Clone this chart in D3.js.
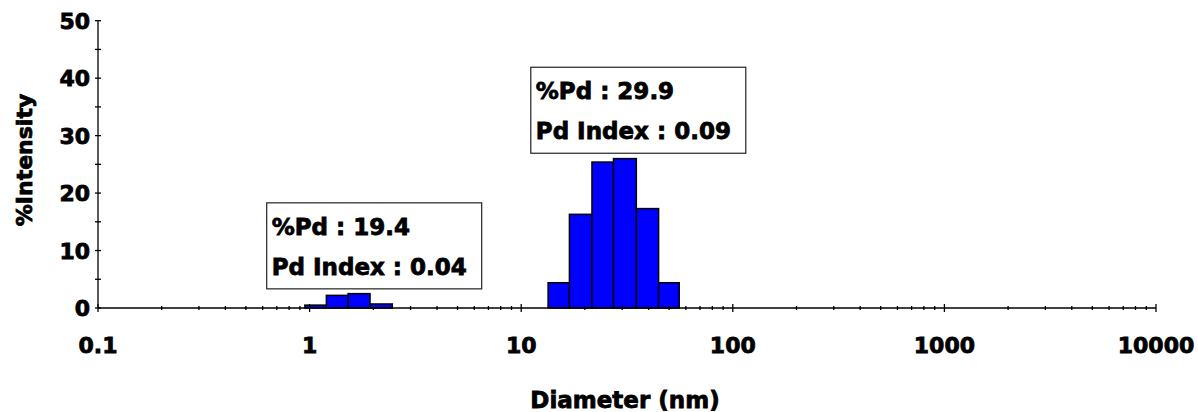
<!DOCTYPE html>
<html>
<head>
<meta charset="utf-8">
<script src="https://d3js.org/d3.v7.min.js"></script>
<style>
  body { margin: 0; background: #fff; }
  text { font-family: "DejaVu Sans", Verdana, sans-serif; font-weight: bold;
         stroke: black; stroke-width: 0.8px; fill: black; }
</style>
</head>
<body>
<div id="canvas"></div>
<script>
// size distribution by intensity, two peaks
var peak1Edges = [0.95, 1.2, 1.52, 1.93, 2.46];
var peak1Values = [0.5, 2.2, 2.5, 0.7];

var peak2Edges = [13.4, 16.9, 21.6, 27.3, 35.0, 44.6, 55.8];
var peak2Values = [4.4, 16.3, 25.4, 26.0, 17.3, 4.4];

var xTicks = [0.1, 1, 10, 100, 1000, 10000];
var xTickLabels = ["0.1", "1", "10", "100", "1000", "10000"];
var yTicks = [0, 10, 20, 30, 40, 50];

var peak1Text = ["%Pd : 19.4", "Pd Index : 0.04"];
var peak2Text = ["%Pd : 29.9", "Pd Index : 0.09"];

draw();

function draw(){
	var w = 1198,
	    h = 412,
	    left = 98,
	    right = 1156,
	    top = 20.7,
	    bottom = 308;

	var svg = d3.select("#canvas").append("svg")
				.attr("width", w)
				.attr("height", h)
				.style("background-color", "white");

	var xScale = d3.scaleLog()
					.domain([0.1, 10000])
					.range([left, right]);
	var yScale = d3.scaleLinear()
					.domain([0, 50])
					.range([bottom, top]);

	// bins: each bar goes from edge i to edge i+1
	var bins = [];
	peak1Values.forEach(function(v, i){
		bins.push({lo: peak1Edges[i], hi: peak1Edges[i+1], v: v});
	});
	peak2Values.forEach(function(v, i){
		bins.push({lo: peak2Edges[i], hi: peak2Edges[i+1], v: v});
	});

	svg.selectAll("rect.bar")
		.data(bins)
		.join("rect")
		.attr("class", "bar")
		.attr("x", function(d){ return xScale(d.lo); })
		.attr("y", function(d){ return yScale(d.v); })
		.attr("width", function(d){ return xScale(d.hi) - xScale(d.lo); })
		.attr("height", function(d){ return yScale(0) - yScale(d.v); })
		.attr("fill", "#0000ff")
		.attr("stroke", "black")
		.attr("stroke-width", 1.5);

	// y axis, ticks crossing the line
	var yAxis = svg.append("g").attr("stroke", "black").attr("stroke-width", 1.3);
	yAxis.append("line")
		.attr("x1", left).attr("x2", left)
		.attr("y1", yScale(50)).attr("y2", yScale(0));
	yAxis.selectAll("line.tick")
		.data(d3.range(0, 55, 5))
		.join("line")
		.attr("class", "tick")
		.attr("x1", left - 3).attr("x2", left + 3)
		.attr("y1", function(d){ return yScale(d); })
		.attr("y2", function(d){ return yScale(d); });

	svg.selectAll("text.ylab")
		.data(yTicks)
		.join("text")
		.attr("class", "ylab")
		.attr("x", left - 8)
		.attr("y", function(d){ return yScale(d) + 8; })
		.attr("text-anchor", "end")
		.attr("font-size", 22)
		.text(function(d){ return d; });

	// x axis (log)
	var xAxis = svg.append("g").attr("stroke", "black").attr("stroke-width", 1.3);
	xAxis.append("line")
		.attr("x1", xScale(0.1)).attr("x2", xScale(10000))
		.attr("y1", bottom).attr("y2", bottom);

	var minor = [];
	xTicks.slice(0, -1).forEach(function(t){
		for (var k = 2; k < 10; k++) minor.push(t * k);
	});
	xAxis.selectAll("line.minor")
		.data(minor)
		.join("line")
		.attr("class", "minor")
		.attr("x1", function(d){ return xScale(d); })
		.attr("x2", function(d){ return xScale(d); })
		.attr("y1", bottom - 2).attr("y2", bottom + 2);
	xAxis.selectAll("line.major")
		.data(xTicks)
		.join("line")
		.attr("class", "major")
		.attr("x1", function(d){ return xScale(d); })
		.attr("x2", function(d){ return xScale(d); })
		.attr("y1", bottom - 4).attr("y2", bottom + 4);

	svg.selectAll("text.xlab")
		.data(xTicks)
		.join("text")
		.attr("class", "xlab")
		.attr("x", function(d){ return xScale(d); })
		.attr("y", 353)
		.attr("text-anchor", "middle")
		.attr("font-size", 22)
		.text(function(d, i){ return xTickLabels[i]; });

	// axis titles
	svg.append("text")
		.attr("x", (left + right) / 2 - 2)
		.attr("y", 408)
		.attr("text-anchor", "middle")
		.attr("font-size", 23)
		.text("Diameter (nm)");
	svg.append("text")
		.attr("transform", "translate(32," + 160 + ") rotate(-90)")
		.attr("text-anchor", "middle")
		.attr("font-size", 22)
		.text("%Intensity");

	// annotation boxes, anchored in data coordinates
	var notes = [
		{x: 0.627, y: 18.3, lines: peak1Text},
		{x: 11.1, y: 41.9, lines: peak2Text}
	];
	var g = svg.selectAll("g.note")
		.data(notes)
		.join("g")
		.attr("class", "note")
		.attr("transform", function(d){
			return "translate(" + xScale(d.x) + "," + yScale(d.y) + ")";
		});
	g.append("rect")
		.attr("width", 215)
		.attr("height", 86)
		.attr("fill", "white")
		.attr("stroke", "#222")
		.attr("stroke-width", 1.2);
	g.selectAll("text")
		.data(function(d){ return d.lines; })
		.join("text")
		.attr("x", 5)
		.attr("y", function(d, i){ return 32 + i * 40; })
		.attr("font-size", 23)
		.text(function(d){ return d; });
}
</script>
</body>
</html>
